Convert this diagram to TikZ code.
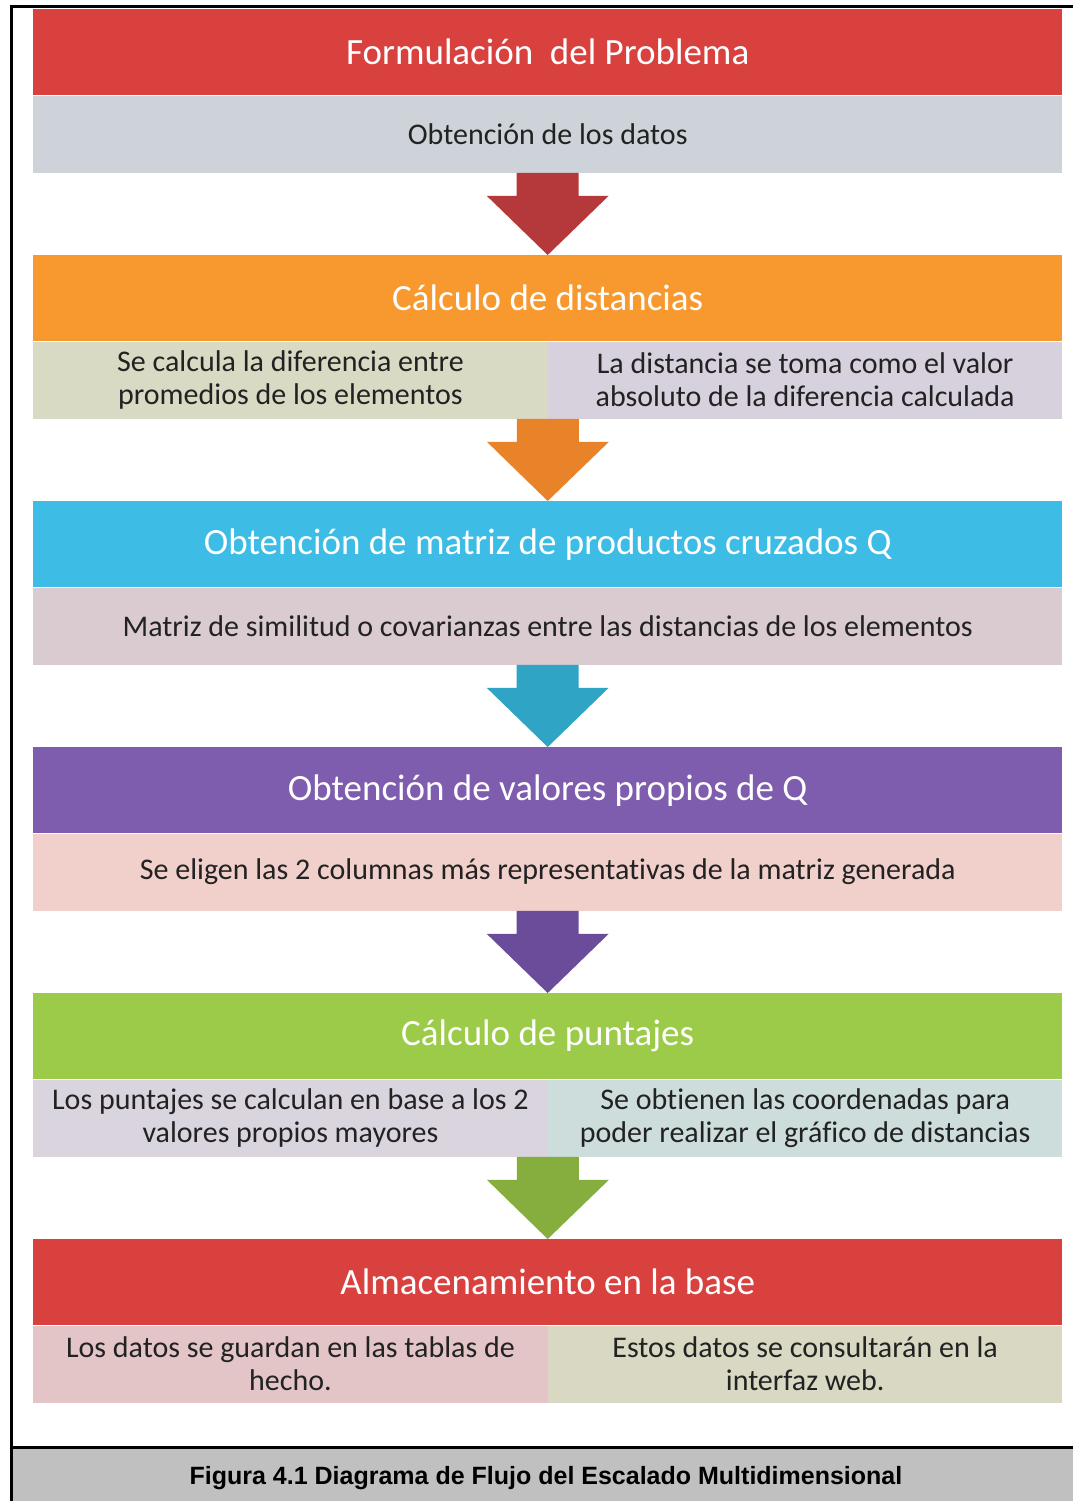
\documentclass[tikz,border=0pt]{standalone}
\usepackage{fontspec}
\setmainfont{Carlito}[Ligatures=NoCommon]
\newfontfamily\capfont{Liberation Sans}
\usetikzlibrary{calc}
\usetikzlibrary{positioning}

\definecolor{hRed}{HTML}{D9413F}
\definecolor{hOrange}{HTML}{F8992F}
\definecolor{hCyan}{HTML}{3DBDE5}
\definecolor{hPurple}{HTML}{7F5DAE}
\definecolor{hGreen}{HTML}{9BCB48}
\definecolor{aRed}{HTML}{B5393A}
\definecolor{aOrange}{HTML}{E8832A}
\definecolor{aTeal}{HTML}{2FA4C4}
\definecolor{aPurple}{HTML}{6B4C9A}
\definecolor{aGreen}{HTML}{86AE3E}
\definecolor{sGray}{HTML}{CDD3D9}
\definecolor{sOlive}{HTML}{D8DAC3}
\definecolor{sLilac}{HTML}{D7D0DD}
\definecolor{sMauve}{HTML}{DACBD0}
\definecolor{sPink}{HTML}{F1CFCB}
\definecolor{sLav}{HTML}{D9D4DE}
\definecolor{sAqua}{HTML}{CCDDDC}
\definecolor{sRose}{HTML}{E3C5C8}
\definecolor{sKhaki}{HTML}{D8D8C3}
\definecolor{txt}{HTML}{222222}
\definecolor{capgray}{HTML}{C0C0C0}

\tikzset{
  head/.style={anchor=north west, minimum width=1029pt, minimum height=86pt, inner sep=0pt,
    text=white, font=\fontsize{37}{44}\selectfont},
  sub/.style={anchor=north west, minimum width=1029pt, minimum height=77pt, inner sep=0pt,
    text=txt, align=center, font=\fontsize{30}{33}\selectfont},
  half/.style={sub, minimum width=514.5pt},
}

\begin{document}
\begin{tikzpicture}[x=1pt, y=-1pt]
  \useasboundingbox (0,0) rectangle (1073,1501);
  \fill[white] (0,0) rectangle (1073,1501);

  % frame and caption band
  \fill[capgray] (11,1447) rectangle (1073,1501);
  \draw[black, line width=3pt] (11,1447) -- (1073,1447);
  \draw[black, line width=3pt] (1073,7) -- (11,7) -- (11,1501);

  % steps
  \node[head, fill=hRed] (h1) at (33,9) {Formulación\ \ del Problema};
  \node[sub, fill=sGray] (s1) at (h1.south west) {Obtención de los datos};

  \node[head, fill=hOrange] (h2) at (33,255) {Cálculo de distancias};
  \node[half, fill=sOlive] (s2a) at (h2.south west) {Se calcula la diferencia entre\\promedios de los elementos};
  \node[half, fill=sLilac] (s2b) at (h2.south) {La distancia se toma como el valor\\absoluto de la diferencia calculada};

  \node[head, fill=hCyan] (h3) at (33,501) {Obtención de matriz de productos cruzados Q};
  \node[sub, fill=sMauve] (s3) at (h3.south west) {Matriz de similitud o covarianzas entre las distancias de los elementos};

  \node[head, fill=hPurple] (h4) at (33,747) {Obtención de valores propios de Q};
  \node[sub, fill=sPink] (s4) at (h4.south west) {Se eligen las 2 columnas más representativas de la matriz generada};

  \node[head, fill=hGreen] (h5) at (33,993) {Cálculo de puntajes};
  \node[half, fill=sLav] (s5a) at (h5.south west) {Los puntajes se calculan en base a los 2\\valores propios mayores};
  \node[half, fill=sAqua] (s5b) at (h5.south) {Se obtienen las coordenadas para\\poder realizar el gráfico de distancias};

  \node[head, fill=hRed] (h6) at (33,1239) {Almacenamiento en la base};
  \node[half, fill=sRose] (s6a) at (h6.south west) {Los datos se guardan en las tablas de\\hecho.};
  \node[half, fill=sKhaki] (s6b) at (h6.south) {Estos datos se consultarán en la\\interfaz web.};

  % block arrows
  \foreach \a/\b/\c in {s1.south/h2.north/aRed, s2a.south east/h3.north/aOrange,
      s3.south/h4.north/aTeal, s4.south/h5.north/aPurple, s5a.south east/h6.north/aGreen}
    \fill[\c] ($(\a)+(-31,0)$) -- ($(\a)+(31,0)$) -- ($(\a)+(31,23)$) -- ($(\a)+(61,23)$)
      -- (\b) -- ($(\a)+(-61,23)$) -- ($(\a)+(-31,23)$) -- cycle;

  \node[font=\capfont\bfseries\fontsize{25}{28}\selectfont] (cap) at (546,1478)
    {Figura 4.1 Diagrama de Flujo del Escalado Multidimensional};
\end{tikzpicture}
\end{document}
